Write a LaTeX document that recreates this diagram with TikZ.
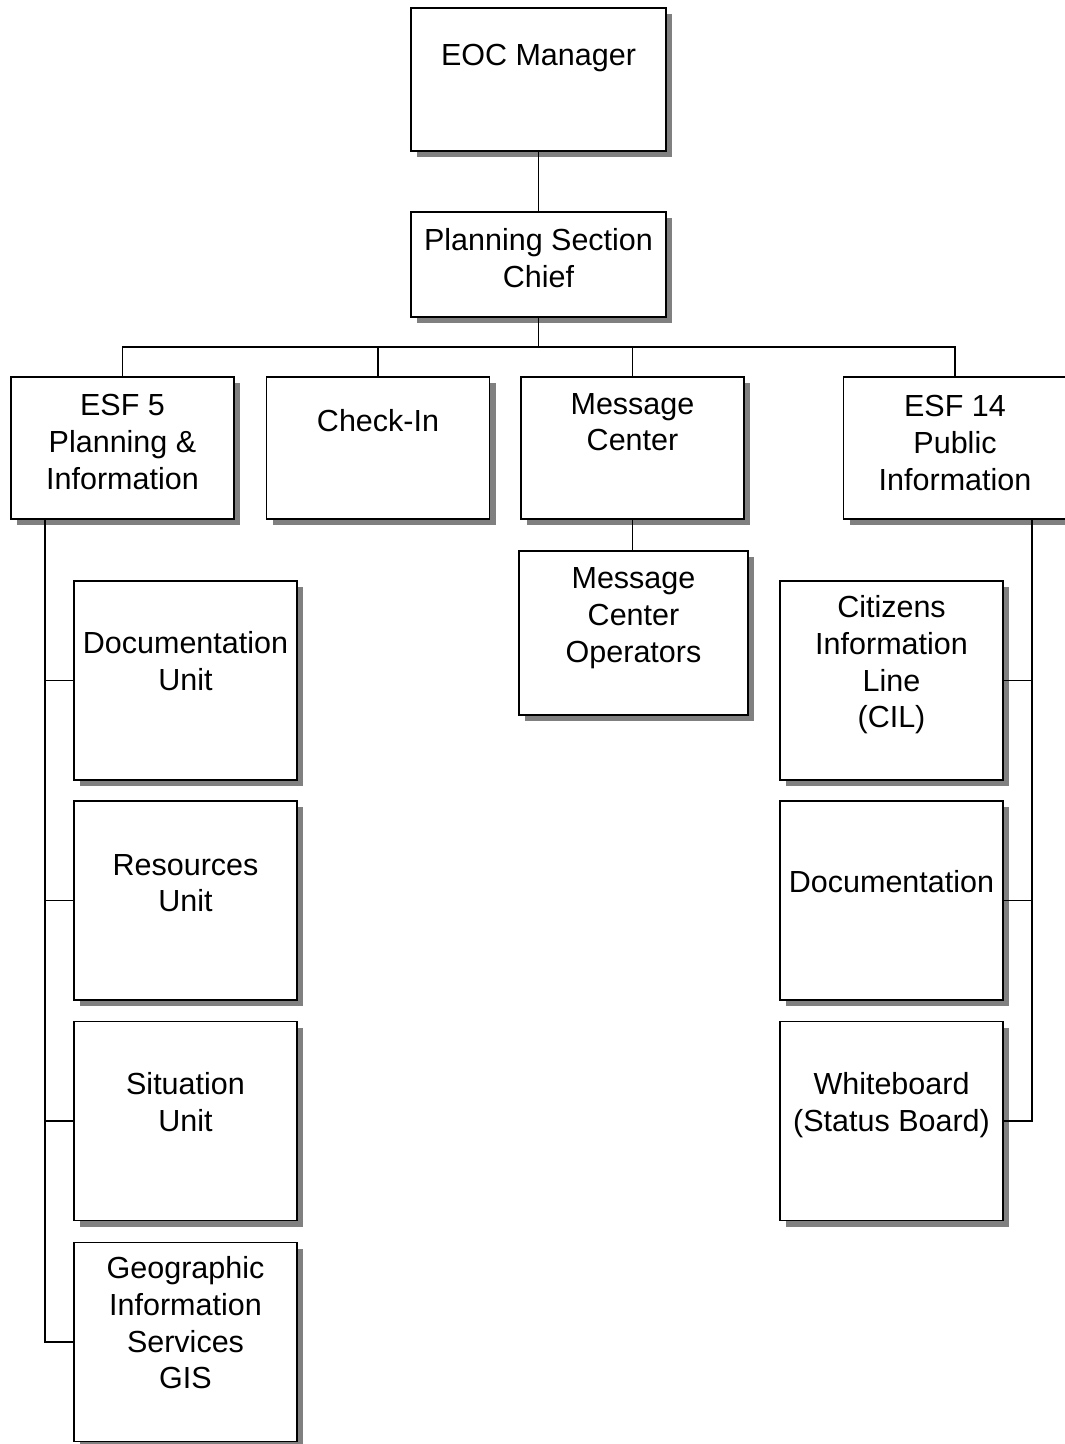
\documentclass[tikz,border=0pt]{standalone}
\usepackage{fontspec}
\setmainfont{Liberation Sans}
\usetikzlibrary{shadows}
\begin{document}
\begin{tikzpicture}[x=1pt,y=-1pt,
  box/.style={draw=black, line width=1.8pt, fill=white, inner sep=0pt,
    drop shadow={shadow xshift=6pt, shadow yshift=-6pt, fill=black!50, opacity=1}},
  wide/.style={box, minimum width=223pt},
  txt/.style={align=center, inner sep=0pt, font=\fontsize{30.5}{36.7}\selectfont},
  conn/.style={line width=1.8pt}]
\useasboundingbox (0,0) rectangle (1065,1444);
% boxes
\node[box, minimum width=255pt, minimum height=143pt] (eoc) at (538.5,79.5) {};
\node[box, minimum width=255pt, minimum height=105pt] (psc) at (538.5,264.5) {};
\node[wide, minimum height=142pt] (esf5) at (122.5,448) {};
\node[wide, minimum height=142pt] (chk) at (378,448) {};
\node[wide, minimum height=142pt] (msg) at (632.5,448) {};
\node[wide, minimum height=142pt] (esf14) at (955,448) {};
\node[box, minimum width=229pt, minimum height=164pt] (mco) at (633.5,633) {};
\node[wide, minimum height=199pt] (doc) at (185.5,680.5) {};
\node[wide, minimum height=199pt] (res) at (185.5,900.5) {};
\node[wide, minimum height=199pt] (sit) at (185.5,1121) {};
\node[wide, minimum height=199pt] (gis) at (185.5,1342) {};
\node[wide, minimum height=199pt] (cil) at (891.5,680.5) {};
\node[wide, minimum height=199pt] (rdoc) at (891.5,900.5) {};
\node[wide, minimum height=199pt] (wb) at (891.5,1121) {};
% texts
\node[txt] (teoc) at (538.5,58) {EOC Manager};
\node[txt] (tpsc) at (538.5,258) {Planning Section\\Chief};
\node[txt] (tesf5) at (122.5,442) {ESF 5\\Planning \&\\Information};
\node[txt] (tchk) at (378,421) {Check-In};
\node[txt] (tmsg) at (632.5,422) {Message\\Center};
\node[txt] (tesf14) at (955,443) {ESF 14\\Public\\Information};
\node[txt] (tmco) at (633.5,618) {Message\\Center\\Operators};
\node[txt] (tdoc) at (185.5,661) {Documentation\\Unit};
\node[txt] (tres) at (185.5,883) {Resources\\Unit};
\node[txt] (tsit) at (185.5,1102) {Situation\\Unit};
\node[txt] (tgis) at (185.5,1323) {Geographic\\Information\\Services\\GIS};
\node[txt] (tcil) at (891.5,665) {Citizens\\Information\\Line\\(CIL)};
\node[txt] (trdoc) at (891.5,882) {Documentation};
\node[txt] (twb) at (891.5,1105) {Whiteboard\\(Status Board)};
% connectors
\coordinate (bus) at (538.5,347);
\coordinate (lv) at (45,519);
\coordinate (rv) at (1032,519);
\draw[conn] (eoc.south) -- (psc.north);
\draw[conn] (psc.south) -- (bus);
\draw[conn] (esf5.north) -- (esf5.north |- bus) -- (esf14.north |- bus) -- (esf14.north);
\draw[conn] (chk.north) -- (chk.north |- bus);
\draw[conn] (msg.north) -- (msg.north |- bus);
\draw[conn] (msg.south) -- (msg.south |- mco.north);
\draw[conn] (lv) |- (gis.west);
\draw[conn] (lv |- doc.west) -- (doc.west);
\draw[conn] (lv |- res.west) -- (res.west);
\draw[conn] (lv |- sit.west) -- (sit.west);
\draw[conn] (rv) |- (wb.east);
\draw[conn] (rv |- cil.east) -- (cil.east);
\draw[conn] (rv |- rdoc.east) -- (rdoc.east);
\end{tikzpicture}
\end{document}
